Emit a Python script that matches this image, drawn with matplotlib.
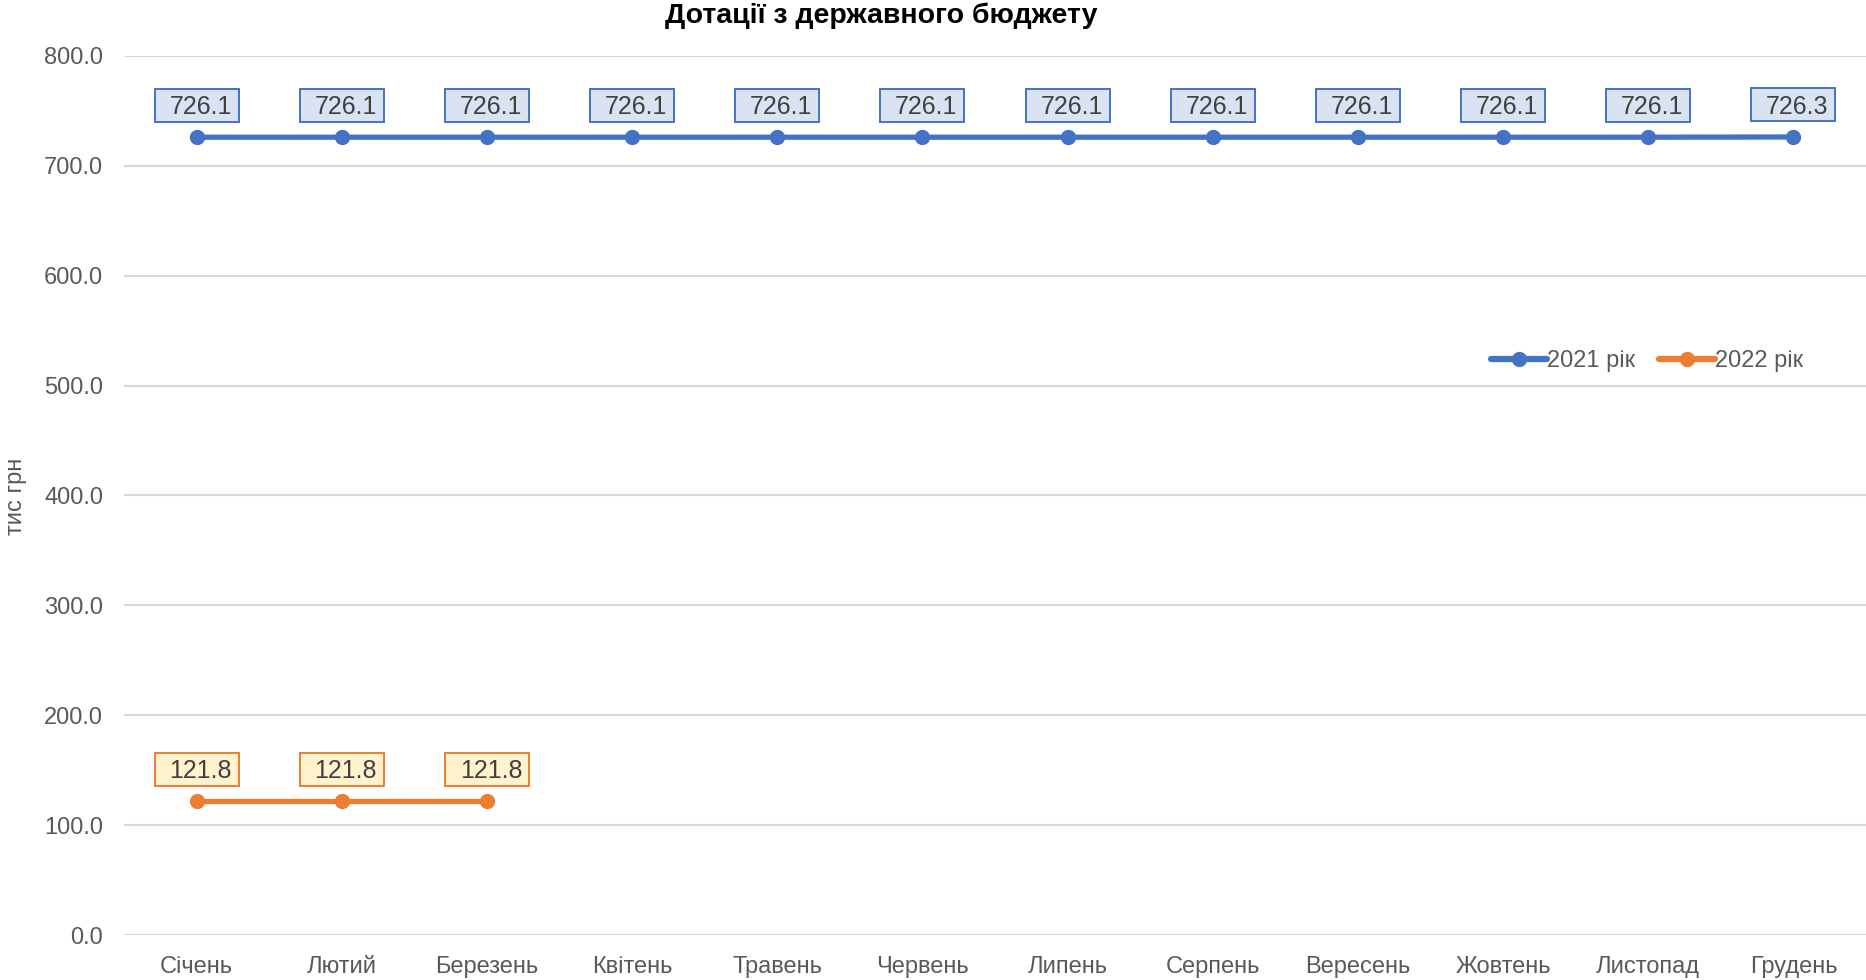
import matplotlib.pyplot as plt
import matplotlib.transforms as mtransforms
from matplotlib.patches import Rectangle
import numpy as np

plt.rcParams['font.family'] = ['Liberation Sans', 'DejaVu Sans']

months = ['Січень', 'Лютий', 'Березень', 'Квітень', 'Травень', 'Червень',
          'Липень', 'Серпень', 'Вересень', 'Жовтень', 'Листопад', 'Грудень']
y2021 = [726.1, 726.1, 726.1, 726.1, 726.1, 726.1,
         726.1, 726.1, 726.1, 726.1, 726.1, 726.3]
y2022 = [121.8, 121.8, 121.8]
yticks = [0, 100, 200, 300, 400, 500, 600, 700, 800]

BLUE = '#4472C4'
ORANGE = '#ED7D31'
TXT = '#595959'

fig = plt.figure(figsize=(18.66, 9.8), dpi=100)
ax = fig.add_axes([124 / 1866, 1 - 935 / 980, 1 - 124 / 1866, (935 - 56) / 980])

x = np.arange(len(months))
ax.plot(x, y2021, color=BLUE, lw=3.8, marker='o', ms=10, label='2021 рік',
        solid_capstyle='round', zorder=3)
ax.plot(x[:len(y2022)], y2022, color=ORANGE, lw=3.8, marker='o', ms=10,
        label='2022 рік', solid_capstyle='round', zorder=3)


def label(xi, v, fc, ec):
    # box in inches, anchored at the data point
    tr = fig.dpi_scale_trans + mtransforms.ScaledTranslation(xi, v, ax.transData)
    ax.add_patch(Rectangle((-0.42, 0.155), 0.84, 0.33, transform=tr, fc=fc,
                           ec=ec, lw=1.4, zorder=4, clip_on=False))
    ax.text(0.04, 0.30, f'{v:.1f}', transform=tr, ha='center', va='center',
            fontsize=18, color='#404040', zorder=5)


for xi, v in zip(x, y2021):
    label(xi, v, '#DAE3F3', BLUE)
for xi, v in zip(x, y2022):
    label(xi, v, '#FFF2CC', ORANGE)

ax.set_xlim(-0.5, len(months) - 0.5)
ax.set_ylim(0, 800)
ax.set_yticks(yticks)
ax.set_yticklabels([f'{t:.1f}' for t in yticks])
ax.set_xticks(x)
ax.set_xticklabels(months)
ax.tick_params(axis='both', length=0, labelsize=17, labelcolor=TXT)
ax.tick_params(axis='y', pad=15)
ax.tick_params(axis='x', pad=15)
ax.grid(axis='y', color='#D9D9D9', lw=1.5)
ax.set_axisbelow(True)
for s in ax.spines.values():
    s.set_visible(False)

fig.text(16 / 1866, 1 - 496 / 980, 'тис грн', rotation=90, ha='center',
         va='center', fontsize=17, color=TXT)
fig.text(881 / 1866, 1 - 16 / 980, 'Дотації з державного бюджету', ha='center',
         va='center', fontsize=20.5, fontweight='bold', color='black')

leg = fig.legend(loc='center', bbox_to_anchor=(1647 / 1866, 1 - 361 / 980), ncol=2,
                 frameon=False, fontsize=17, labelcolor=TXT, handlelength=2.4,
                 handletextpad=0.0, columnspacing=1.0)
for ln in leg.get_lines():
    ln.set_linewidth(4.5)

fig.savefig('out.png', dpi=100)
